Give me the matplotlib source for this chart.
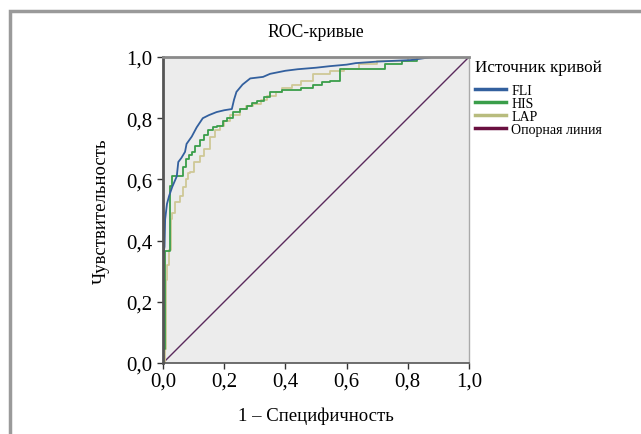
import matplotlib
matplotlib.use("Agg")
import matplotlib.pyplot as plt
from matplotlib.lines import Line2D
from matplotlib.patches import Rectangle

plt.rcParams['font.family'] = ['Liberation Serif', 'DejaVu Serif']

# ROC curve points (1 - specificity, sensitivity)
fli_x = [0.0, 0.0, 0.005, 0.007, 0.013, 0.02, 0.03, 0.045, 0.05, 0.06, 0.072, 0.077, 0.094,
         0.11, 0.13, 0.15, 0.175, 0.2, 0.225, 0.232, 0.24, 0.26, 0.285, 0.327, 0.35, 0.4,
         0.44, 0.5, 0.545, 0.6, 0.63, 0.7, 0.81, 0.88, 1.0]
fli_y = [0.0, 0.35, 0.38, 0.47, 0.52, 0.546, 0.575, 0.61, 0.657, 0.67, 0.69, 0.716, 0.74,
         0.77, 0.80, 0.81, 0.82, 0.826, 0.83, 0.86, 0.886, 0.91, 0.93, 0.935, 0.945, 0.955,
         0.96, 0.965, 0.97, 0.975, 0.98, 0.985, 0.99, 1.0, 1.0]

his_x = [0.0, 0.0, 0.005, 0.023, 0.03, 0.066, 0.075, 0.085, 0.095, 0.105, 0.12, 0.135,
         0.148, 0.165, 0.175, 0.196, 0.21, 0.23, 0.25, 0.274, 0.29, 0.307, 0.33, 0.35,
         0.39, 0.45, 0.49, 0.52, 0.545, 0.58, 0.725, 0.78, 0.83, 1.0]
his_y = [0.0, 0.045, 0.366, 0.58, 0.61, 0.64, 0.667, 0.68, 0.69, 0.71, 0.73, 0.745,
         0.76, 0.77, 0.775, 0.79, 0.80, 0.82, 0.83, 0.84, 0.85, 0.856, 0.87, 0.886,
         0.893, 0.90, 0.91, 0.918, 0.92, 0.96, 0.977, 0.987, 1.0, 1.0]

lap_x = [0.0, 0.005, 0.01, 0.012, 0.018, 0.025, 0.03, 0.04, 0.056, 0.065, 0.075, 0.082,
         0.088, 0.1, 0.12, 0.135, 0.154, 0.17, 0.186, 0.2, 0.22, 0.25, 0.27, 0.295, 0.32,
         0.34, 0.37, 0.39, 0.42, 0.45, 0.49, 0.545, 0.59, 0.64, 0.7, 0.8, 1.0]
lap_y = [0.0, 0.046, 0.27, 0.32, 0.37, 0.47, 0.49, 0.525, 0.546, 0.575, 0.60, 0.62,
         0.624, 0.657, 0.676, 0.70, 0.74, 0.76, 0.775, 0.79, 0.81, 0.83, 0.84, 0.846, 0.86,
         0.873, 0.885, 0.90, 0.91, 0.92, 0.944, 0.955, 0.96, 0.977, 0.987, 1.0, 1.0]

ref_x = [0.0, 1.0]
ref_y = [0.0, 1.0]

ticks = [0.0, 0.2, 0.4, 0.6, 0.8, 1.0]
tick_labels = ['0,0', '0,2', '0,4', '0,6', '0,8', '1,0']

fig = plt.figure(figsize=(6.41, 4.35), dpi=100)
fig.patch.set_facecolor('white')

# outer frame
fig.patches.append(Rectangle((10 / 641, -0.05), 1.1, 1 - 12 / 435 + 0.05,
                             transform=fig.transFigure, fill=False,
                             edgecolor='#9a9a9a', linewidth=2.5))

ax = fig.add_axes([163 / 641, 71 / 435, 306 / 641, 306 / 435])
ax.set_facecolor('#ececec')

ax.plot(ref_x, ref_y, color='#5a2a5c', linewidth=1.0)
ax.plot(lap_x, lap_y, color='#cfc896', linewidth=1.3, drawstyle='steps-post')
ax.plot(his_x, his_y, color='#3a9e4a', linewidth=1.3, drawstyle='steps-post')
ax.plot(fli_x, fli_y, color='#33609e', linewidth=1.3)

ax.set_xlim(0, 1)
ax.set_ylim(0, 1)
ax.set_xticks(ticks)
ax.set_xticklabels(tick_labels)
ax.set_yticks(ticks)
ax.set_yticklabels(tick_labels)
ax.tick_params(direction='out', length=4, width=1, colors='#333333',
               labelsize=15, labelcolor='black')
ax.tick_params(axis='x', pad=2)

ax.spines['left'].set_color('#555555')
ax.spines['left'].set_linewidth(2)
ax.spines['top'].set_color('#8a8a8a')
ax.spines['top'].set_linewidth(2)
ax.spines['right'].set_color('#aaaaaa')
ax.spines['right'].set_linewidth(1)
ax.spines['bottom'].set_color('#555555')
ax.spines['bottom'].set_linewidth(1.2)

ax.set_title('ROC-кривые', fontsize=12.7, pad=15)
ax.set_xlabel('1 – Специфичность', fontsize=13.5, labelpad=12)
ax.set_ylabel('Чувствительность', fontsize=13.5, labelpad=12)

handles = [
    Line2D([], [], color='#33609e', linewidth=2.5, label='FLI'),
    Line2D([], [], color='#3a9e4a', linewidth=2.5, label='HIS'),
    Line2D([], [], color='#b8bc7e', linewidth=2.5, label='LAP'),
    Line2D([], [], color='#6a1040', linewidth=2.5, label='Опорная линия'),
]
leg = ax.legend(handles=handles, title='Источник кривой', loc='upper left',
                bbox_to_anchor=(1.02, 0.993), frameon=False, fontsize=10,
                title_fontsize=12.3, handlelength=2.2, handletextpad=0.4,
                labelspacing=0.0, borderaxespad=0.0, borderpad=0.0)
leg._legend_box.align = 'left'
leg._legend_box.sep = 6.5

fig.savefig('out.png', dpi=100)
